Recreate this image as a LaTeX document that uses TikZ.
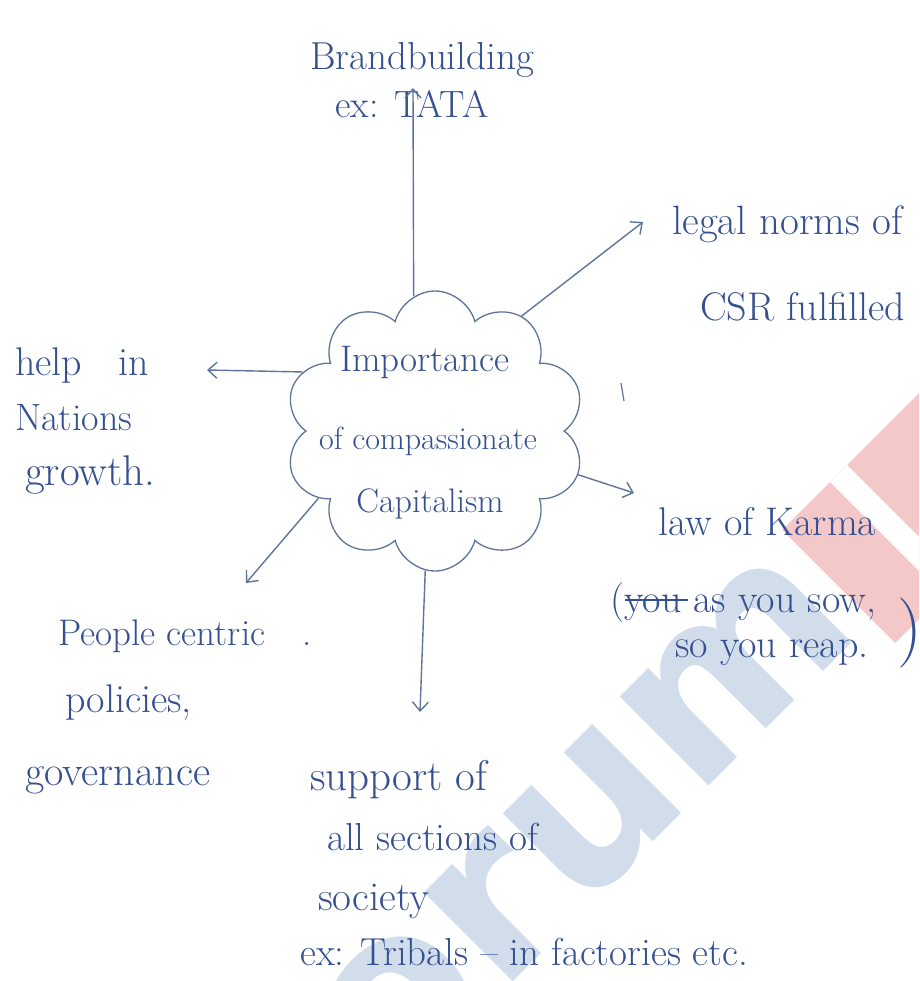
\documentclass[tikz,border=0pt]{standalone}
\usepackage{fontspec}
\usetikzlibrary{shapes.symbols,arrows.meta}
\newfontfamily\logofont{DejaVu Sans}
\definecolor{ink}{RGB}{52,80,145}
\definecolor{pen}{RGB}{95,115,155}
\definecolor{logoblue}{RGB}{210,221,236}
\definecolor{logored}{RGB}{244,200,200}
\newcommand{\fs}[1]{\fontsize{#1}{#1}\selectfont}
\begin{document}
\begin{tikzpicture}[x=1pt,y=-1pt,
  txt/.style={text=ink, inner sep=0pt, font=\fs{38}, anchor=base west},
  ctxt/.style={txt, anchor=base},
  link/.style={draw=pen, line width=1.4pt, -{Straight Barb[length=9pt,width=16pt,line width=1.4pt]}},
  ]
\useasboundingbox (0,0) rectangle (919,981);

% background logo, cut at the page edge
\begin{scope}
  \clip (0,0) rectangle (919,981);
  \fill[logored] (782,530) -- ++(300,-300) -- ++(113,113) -- ++(-300,300) -- cycle;
  \fill[white] (830,482) -- ++(17,-17) -- ++(150,150) -- ++(-17,17) -- cycle;
  \node[rotate=45, anchor=base, inner sep=0pt, text=logoblue,
        font=\logofont\bfseries\fs{230}] (logo) at (591,904) {forum};
\end{scope}

% central cloud
\node[cloud, cloud puffs=10, draw=pen, line width=1.3pt,
      minimum width=300pt, minimum height=280pt] (cloud) at (435,431) {};
\node[ctxt, font=\fs{37}] (imp1) at (425,371) {Importance};
\node[ctxt, font=\fs{32}] (imp2) at (428,449) {of compassionate};
\node[ctxt, font=\fs{34}] (imp3) at (430,512) {Capitalism};

% branch texts
\node[ctxt, font=\fs{39}] (brand1) at (422,70) {Brandbuilding};
\node[ctxt] (brand2) at (412,118) {ex: TATA};
\node[txt, font=\fs{41}] (legal1) at (672,235) {legal norms of};
\node[txt, font=\fs{40}] (legal2) at (700,320) {CSR fulfilled};
\node[txt, font=\fs{40}] (help1) at (15,375) {help\ \ \ in};
\node[txt] (help2) at (15,430) {Nations};
\node[txt, font=\fs{43}] (help3) at (25,485) {growth.};
\node[txt, font=\fs{40}] (karma1) at (658,535) {law of Karma};
\node[txt, font=\fs{40}] (karma2) at (610,612) {(you as you sow,};
\node[txt, font=\fs{40}] (karma3) at (675,657) {so you reap.};
\node[txt, font=\fs{70}] (karma4) at (897,650) {)};
\node[txt, font=\fs{37}] (people1) at (58,645) {People centric\quad.};
\node[txt, font=\fs{40}] (people2) at (65,712) {policies,};
\node[txt, font=\fs{42}] (people3) at (25,785) {governance};
\node[txt, font=\fs{43}] (support1) at (310,790) {support of};
\node[txt, font=\fs{39}] (support2) at (327,850) {all sections of};
\node[txt, font=\fs{41}] (support3) at (318,910) {society};
\node[txt, font=\fs{39}] (support4) at (300,965) {ex: Tribals -- in factories etc.};

% struck-out word
\draw[ink, line width=2pt] (625,600) -- (688,600);

% arrow ends
\coordinate (tipA) at (413,88);
\coordinate (tipB) at (643,222);
\coordinate (tipC) at (207,370);
\coordinate (tipD) at (246,583);
\coordinate (tipE) at (420,712);
\coordinate (tipF) at (634,493);

\draw[link] (cloud.99) -- (tipA);
\draw[link] (cloud.53) -- (tipB);
\draw[link] (cloud.156) -- (tipC);
\draw[link] (cloud.210) -- (tipD);
\draw[link] (cloud.266) -- (tipE);
\draw[link] (cloud.343) -- (tipF);

% small pen stroke right of the cloud
\draw[pen, line width=1.2pt] (621,383) -- (624,401);
\end{tikzpicture}
\end{document}
